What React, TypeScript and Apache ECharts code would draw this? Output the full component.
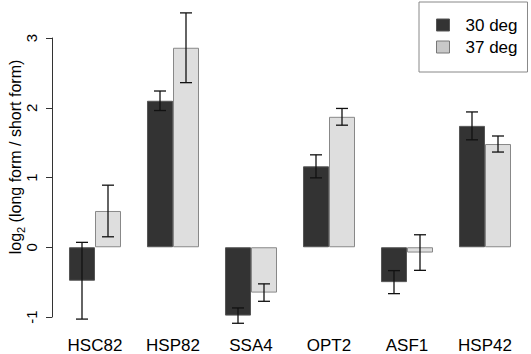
import React, { useEffect, useRef } from "react";
import * as echarts from "echarts";

const categories = ["HSC82", "HSP82", "SSA4", "OPT2", "ASF1", "HSP42"];
const mean30 = [-0.48, 2.1, -0.98, 1.16, -0.5, 1.74];
const err30 = [0.55, 0.14, 0.11, 0.165, 0.165, 0.2];
const mean37 = [0.52, 2.86, -0.65, 1.87, -0.076, 1.48];
const err37 = [0.37, 0.5, 0.125, 0.12, 0.255, 0.115];
const seriesNames = ["30 deg", "37 deg"];
const yTicks = { min: -1, max: 3, interval: 1 };

const FONT = "'Liberation Sans', Arial, Helvetica, sans-serif";
const DARK = "#333333";
const LIGHT = "#dedede";

export default function App() {
  const ref = useRef<HTMLDivElement>(null);
  useEffect(() => {
    if (!ref.current) return;
    const chart = echarts.init(ref.current, undefined, { renderer: "svg" });
    const errData: number[][] = [];
    categories.forEach((_, i) => {
      errData.push([i, mean30[i] - err30[i], mean30[i] + err30[i], 0]);
      errData.push([i, mean37[i] - err37[i], mean37[i] + err37[i], 1]);
    });
    chart.setOption({
      animation: false,
      backgroundColor: "#ffffff",
      textStyle: { fontFamily: FONT },
      grid: { left: 56, right: 7, top: 38, bottom: 36, containLabel: false },
      legend: {
        orient: "vertical",
        left: 419,
        top: 2,
        padding: [13, 10, 15, 17],
        itemGap: 2,
        itemWidth: 13,
        itemHeight: 12,
        borderColor: "#888888",
        borderWidth: 1,
        icon: "rect",
        textStyle: { fontSize: 17, color: "#000", fontFamily: FONT, lineHeight: 20, padding: [0, 0, 0, 11] },
        data: [
          { name: seriesNames[0], itemStyle: { color: DARK, borderColor: "#555", borderWidth: 1 } },
          { name: seriesNames[1], itemStyle: { color: "#c8c8c8", borderColor: "#777", borderWidth: 1 } },
        ],
      },
      xAxis: {
        type: "category",
        data: categories,
        axisLine: { show: false },
        axisTick: { show: false },
        axisLabel: { fontSize: 17, color: "#000", margin: 20, fontFamily: FONT },
      },
      yAxis: {
        type: "value",
        min: yTicks.min,
        max: yTicks.max,
        interval: yTicks.interval,
        offset: 4,
        splitLine: { show: false },
        axisLine: { show: true, lineStyle: { color: "#333", width: 1 } },
        axisTick: { show: true, length: 6, lineStyle: { color: "#333" } },
        axisLabel: { rotate: 90, fontSize: 15, color: "#000", margin: 13, fontFamily: FONT },
      },
      graphic: [
        {
          type: "text",
          x: 15,
          y: 157,
          rotation: Math.PI / 2,
          style: {
            text: "{n|log}{s|2}{n| (long form / short form)}",
            align: "center",
            verticalAlign: "middle",
            fill: "#000",
            rich: {
              n: { fontSize: 16, fontFamily: FONT, lineHeight: 22, fill: "#000" },
              s: { fontSize: 11, fontFamily: FONT, lineHeight: 11, verticalAlign: "bottom", fill: "#000" },
            },
          },
        },
      ],
      series: [
        {
          name: seriesNames[0],
          type: "bar",
          data: mean30,
          barGap: "0%",
          barCategoryGap: "33.33%",
          itemStyle: { color: DARK, borderColor: "#555", borderWidth: 1 },
        },
        {
          name: seriesNames[1],
          type: "bar",
          data: mean37,
          barGap: "0%",
          barCategoryGap: "33.33%",
          itemStyle: { color: LIGHT, borderColor: "#888", borderWidth: 1 },
        },
        {
          type: "custom",
          clip: false,
          encode: { x: 0, y: [1, 2] },
          data: errData,
          renderItem: (params: any, api: any) => {
            const idx = api.value(0);
            const lo = api.value(1);
            const hi = api.value(2);
            const side = api.value(3);
            const pLo = api.coord([idx, lo]);
            const pHi = api.coord([idx, hi]);
            const band = api.size([1, 0])[0];
            const x = pLo[0] + (side === 0 ? -1 : 1) * (band / 6);
            const cap = band * 0.077;
            const st = { stroke: "#111", lineWidth: 1.3 };
            return {
              type: "group",
              children: [
                { type: "line", shape: { x1: x, y1: pLo[1], x2: x, y2: pHi[1] }, style: st },
                { type: "line", shape: { x1: x - cap, y1: pLo[1], x2: x + cap, y2: pLo[1] }, style: st },
                { type: "line", shape: { x1: x - cap, y1: pHi[1], x2: x + cap, y2: pHi[1] }, style: st },
              ],
            };
          },
          z: 5,
        },
      ],
    });
    return () => chart.dispose();
  }, []);
  return <div ref={ref} style={{ position: "fixed", left: 0, top: 0, width: 531, height: 354 }} />;
}
